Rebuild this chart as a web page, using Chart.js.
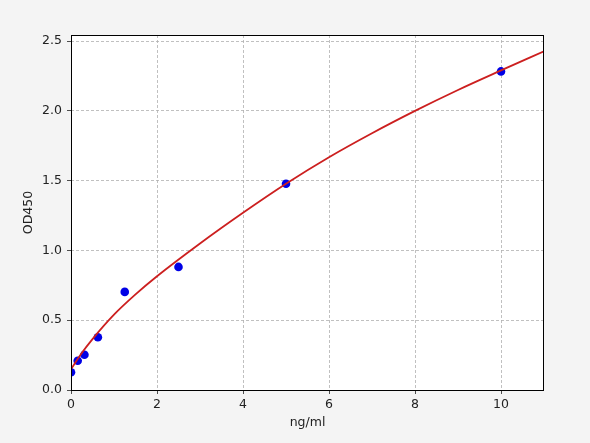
<!DOCTYPE html>
<html>
<head>
<meta charset="utf-8">
<script src="https://cdn.jsdelivr.net/npm/chart.js@4/dist/chart.umd.min.js"></script>
<style>
html,body{margin:0;padding:0;background:#f4f4f4;}
canvas{display:block;}
</style>
</head>
<body>
<canvas id="c" width="590" height="443"></canvas>
<script>
// Standard points (ng/ml vs OD450)
const stdConc = [0, 0.156, 0.3125, 0.625, 1.25, 2.5, 5, 10];
const stdOD   = [0.127, 0.21, 0.253, 0.378, 0.703, 0.882, 1.478, 2.283];
// Fitted curve
const curveX = [0, 0.25, 0.5, 1, 1.5, 2, 3, 4, 5, 6, 7, 8, 9, 10, 11];
const curveY = [0.15, 0.265, 0.365, 0.54, 0.685, 0.815, 1.05, 1.27, 1.478, 1.668, 1.84, 2.0, 2.15, 2.29, 2.427];
// Axis ticks
const xTicks = [0, 2, 4, 6, 8, 10];
const yTicks = [0, 0.5, 1.0, 1.5, 2.0, 2.5];
const xLabel = 'ng/ml';
const yLabel = 'OD450';

const FONT = {family: 'DejaVu Sans', size: 12.5};

const bgPlugin = {
  id: 'bg',
  beforeDraw(chart) {
    const {ctx, chartArea: a} = chart;
    ctx.save();
    ctx.fillStyle = '#f4f4f4';
    ctx.fillRect(0, 0, chart.width, chart.height);
    ctx.fillStyle = '#ffffff';
    ctx.fillRect(a.left, a.top, a.right - a.left, a.bottom - a.top);
    ctx.restore();
  },
  afterDraw(chart) {
    const {ctx, chartArea: a} = chart;
    ctx.save();
    ctx.strokeStyle = '#000';
    ctx.lineWidth = 1;
    ctx.strokeRect(a.left + 0.5, a.top + 0.5, a.right - a.left - 1, a.bottom - a.top);
    ctx.restore();
  }
};

new Chart(document.getElementById('c'), {
  type: 'scatter',
  data: {
    datasets: [
      {
        label: 'fit',
        data: curveX.map((x, i) => ({x, y: curveY[i]})),
        showLine: true,
        borderColor: '#cc1f1f',
        borderWidth: 1.8,
        pointRadius: 0,
        cubicInterpolationMode: 'monotone',
        fill: false
      },
      {
        label: 'std',
        data: stdConc.map((x, i) => ({x, y: stdOD[i]})),
        backgroundColor: '#0000e6',
        borderColor: '#0000e6',
        pointRadius: 4.3,
        borderWidth: 0
      }
    ]
  },
  options: {
    responsive: false,
    animation: false,
    devicePixelRatio: 1,
    layout: {padding: {top: 35, right: 46, bottom: 0, left: 0}},
    plugins: {legend: {display: false}, tooltip: {enabled: false}},
    scales: {
      x: {
        type: 'linear', min: 0, max: 11,
        afterBuildTicks(s) { s.ticks = xTicks.map(v => ({value: v})); },
        afterFit(s) { s.height = 53; },
        ticks: {color: '#222', font: FONT, padding: 3, maxRotation: 0},
        grid: {color: '#b0b0b0', tickBorderDash: [], tickColor: '#222', tickLength: 4, lineWidth: 0.8, drawTicks: true},
        border: {display: false, dash: [3, 2]},
        title: {display: true, text: xLabel, color: '#222', font: FONT, padding: {top: 0, bottom: 13}}
      },
      y: {
        type: 'linear', min: 0, max: 2.544,
        afterBuildTicks(s) { s.ticks = yTicks.map(v => ({value: v})); },
        afterFit(s) { s.width = 71; },
        ticks: {color: '#222', font: FONT, padding: 5, callback: v => v.toFixed(1)},
        grid: {color: '#b0b0b0', tickBorderDash: [], tickColor: '#222', tickLength: 4, lineWidth: 0.8, drawTicks: true},
        border: {display: false, dash: [3, 2]},
        title: {display: true, text: yLabel, color: '#222', font: FONT, padding: {top: 21, bottom: 0}}
      }
    }
  },
  plugins: [bgPlugin]
});
</script>
</body>
</html>
